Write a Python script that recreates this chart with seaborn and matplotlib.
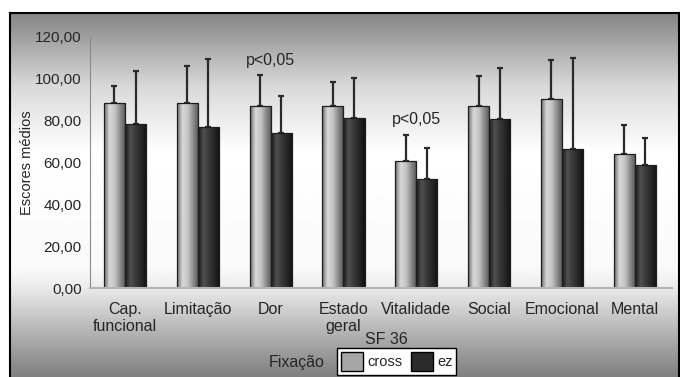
import numpy as np
import pandas as pd
import seaborn as sns
import matplotlib.pyplot as plt
from matplotlib.patches import Patch
from matplotlib.colors import LinearSegmentedColormap

categories = ["Cap.\nfuncional", "Limitação", "Dor", "Estado\ngeral",
              "Vitalidade", "Social", "Emocional", "Mental"]
groups = ["cross", "ez"]
cross_mean = [88.5, 88.5, 87.0, 87.0, 60.8, 87.0, 90.4, 64.1]
ez_mean = [78.5, 77.0, 74.0, 81.3, 52.2, 80.9, 66.5, 58.8]
cross_sd = [8.1, 17.5, 15.0, 11.6, 12.2, 14.4, 18.6, 13.9]
ez_sd = [25.3, 32.6, 18.0, 19.2, 14.8, 24.1, 43.5, 13.0]
sig_labels = ["", "", "p<0,05", "", "p<0,05", "", "", ""]
sig_y = [0, 0, 105.0, 0, 77.0, 0, 0, 0]

df = pd.DataFrame({
    "SF 36": categories * 2,
    "Fixação": ["cross"] * len(categories) + ["ez"] * len(categories),
    "score": cross_mean + ez_mean,
})

sns.set_style("white")
plt.rcParams['font.family'] = ['Liberation Sans', 'DejaVu Sans']

fig = plt.figure(figsize=(6.8, 3.77), dpi=100)
fig.patch.set_facecolor("white")

# gradient background panel with black frame
bg = fig.add_axes([10 / 680, 0, 669 / 680, 364 / 377], zorder=-5)
yy = np.linspace(0, 1, 400)  # 0 = bottom, 1 = top
prof = np.interp(yy, [0, 0.12, 0.25, 0.3, 0.62, 0.8, 1.0],
                 [0.50, 0.70, 0.93, 0.98, 1.0, 0.85, 0.52])
bg.imshow(prof[::-1, None] * np.ones((1, 10)), cmap="gray", vmin=0, vmax=1,
          aspect="auto", extent=[0, 1, 0, 1])
bg.set_xlim(0, 1)
bg.set_ylim(0, 1)
bg.set_xticks([])
bg.set_yticks([])
for s in bg.spines.values():
    s.set_color("black")
    s.set_linewidth(1.5)
bg.spines["bottom"].set_visible(False)

ax = fig.add_axes([90 / 680, 89 / 377, 582 / 680, 251 / 377])
ax.set_facecolor("none")

sns.barplot(data=df, x="SF 36", y="score", hue="Fixação", hue_order=groups,
            palette=["#a6a6a6", "#2b2b2b"], width=0.58, gap=0,
            edgecolor="#1e1e1e", linewidth=0.9, legend=False, ax=ax)

shade = {
    "cross": LinearSegmentedColormap.from_list("c", ["#6e6e6e", "#d8d8d8", "#c4c4c4", "#8a8a8a", "#555555"]),
    "ez": LinearSegmentedColormap.from_list("e", ["#1a1a1a", "#505050", "#383838", "#262626", "#111111"]),
}
grad = np.linspace(0, 1, 50)[None, :]
for container, g, sds in zip(ax.containers, groups, [cross_sd, ez_sd]):
    for bar, sd in zip(container, sds):
        x0, w, h = bar.get_x(), bar.get_width(), bar.get_height()
        im = ax.imshow(grad, cmap=shade[g], aspect="auto",
                       extent=[x0, x0 + w, 0, h], zorder=bar.get_zorder() + 0.1)
        im.set_clip_path(bar)
        bar.set_facecolor("none")
        bar.set_zorder(bar.get_zorder() + 0.2)
        ax.errorbar(x0 + w / 2, h, yerr=[[0], [sd]], fmt="none",
                    ecolor="#2a2a2a", elinewidth=1.6, capsize=2.5,
                    capthick=1.6, zorder=1)

for i, (lab, yv) in enumerate(zip(sig_labels, sig_y)):
    if lab:
        ax.text(i, yv, lab, ha="center", va="bottom", fontsize=11.5)

ax.set_xlim(-0.48, 7.51)
ax.set_ylim(0, 120)
ax.set_yticks(np.arange(0, 121, 20))
ax.set_yticklabels([f"{v},00" for v in range(0, 121, 20)], fontsize=11)
ax.tick_params(axis="y", length=3, color="#888888", pad=3)
ax.tick_params(axis="x", length=0, pad=10, labelsize=11.5)
ax.set_ylabel("Escores médios", fontsize=10.5)
ax.yaxis.set_label_coords(-0.097, 0.5)
ax.set_xlabel("SF 36", fontsize=11.5)
ax.xaxis.set_label_coords(0.509, -0.175)
sns.despine(ax=ax)
ax.spines["left"].set_color("#8a8a8a")
ax.spines["bottom"].set_color("#b5b5b5")
ax.spines["bottom"].set_linewidth(1.5)

fig.text(297 / 680, 14 / 377, "Fixação", ha="center", va="center", fontsize=11.5)
handles = [Patch(facecolor="#a6a6a6", edgecolor="black", label="cross"),
           Patch(facecolor="#2b2b2b", edgecolor="black", label="ez")]
fig.legend(handles=handles, loc="upper left", bbox_to_anchor=(337 / 680, 29 / 377),
           ncol=2, frameon=True, fancybox=False, edgecolor="black",
           framealpha=1, fontsize=10.5, handlelength=1.5, handleheight=1.7,
           handletextpad=0.3, columnspacing=0.6, borderpad=0.25,
           borderaxespad=0)

fig.savefig("out.png", dpi=100)
